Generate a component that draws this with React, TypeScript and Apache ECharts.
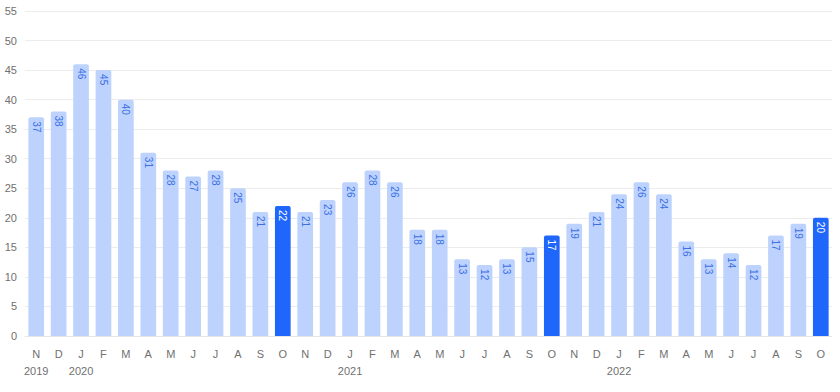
import React, { useEffect, useRef } from "react";
import * as echarts from "echarts";

const months = ["N","D","J","F","M","A","M","J","J","A","S","O","N","D","J","F","M","A","M","J","J","A","S","O","N","D","J","F","M","A","M","J","J","A","S","O"];
const years = ["2019","","2020","","","","","","","","","","","","2021","","","","","","","","","","","","2022","","","","","","","","",""];
const values = [37,38,46,45,40,31,28,27,28,25,21,22,21,23,26,28,26,18,18,13,12,13,15,17,19,21,24,26,24,16,13,14,12,17,19,20];
const highlighted = [11, 23, 35];
const yTicks = { min: 0, max: 55, interval: 5 };

const LIGHT = "#bdd3fd";
const DARK = "#1f66fa";
const FONT = "Helvetica, Arial, 'Liberation Sans', sans-serif";

export default function App() {
  const ref = useRef<HTMLDivElement>(null);
  useEffect(() => {
    const chart = echarts.init(ref.current!, undefined, { renderer: "svg" });
    const cats = months.map((m, i) => (years[i] ? m + "\n" + years[i] : m + "\n "));
    chart.setOption({
      animation: false,
      textStyle: { fontFamily: FONT },
      grid: { left: 25, right: 8, top: 11, bottom: 56, containLabel: false },
      xAxis: {
        type: "category",
        data: cats,
        axisTick: { show: false },
        axisLine: { lineStyle: { color: "#e6e6e6" } },
        axisLabel: { color: "#707070", fontSize: 11, margin: 9, lineHeight: 17, interval: 0, fontFamily: FONT },
      },
      yAxis: {
        type: "value",
        min: yTicks.min,
        max: yTicks.max,
        interval: yTicks.interval,
        axisLabel: { color: "#707070", fontSize: 11, margin: 8, fontFamily: FONT },
        splitLine: { lineStyle: { color: "#ececec" } },
        axisLine: { show: false },
        axisTick: { show: false },
      },
      series: [
        {
          type: "bar",
          barWidth: "70%",
          data: values.map((v, i) => {
            const hl = highlighted.includes(i);
            return {
              value: v,
              itemStyle: { color: hl ? DARK : LIGHT, borderRadius: [2, 2, 0, 0] },
              label: { color: hl ? "#ffffff" : "#3a6fe6" },
            };
          }),
          label: {
            show: true,
            position: "insideTop",
            rotate: -90,
            align: "left",
            verticalAlign: "middle",
            distance: 4,
            fontSize: 10,
            fontFamily: FONT,
          },
        },
      ],
    });
    return () => chart.dispose();
  }, []);
  return <div ref={ref} style={{ width: 840, height: 392, position: "absolute", left: 0, top: 0 }} />;
}
